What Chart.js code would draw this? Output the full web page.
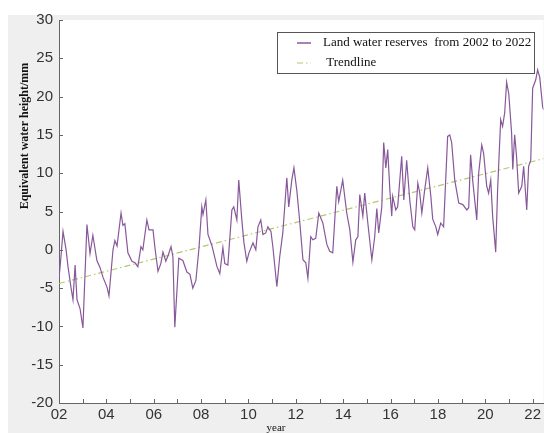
<!DOCTYPE html>
<html lang="en">
<head>
    <meta charset="UTF-8">
    <title>Land water reserves</title>
    <style>
        body {
            margin: 0;
            background-color: #ffffff;
        }
        .chart-box {
            position: relative;
            width: 544px;
            height: 433px;
        }
    </style>
</head>
<body>
    <div class="chart-box">
        <canvas id="waterChart"></canvas>
    </div>

    <script src="https://cdn.jsdelivr.net/npm/chart.js"></script>
    <script>
        // decimal years and equivalent water height (mm)
        const years = [
            2002.00, 2002.08, 2002.17, 2002.30, 2002.38, 2002.51, 2002.59, 2002.68, 2002.76, 2002.89,
            2003.01, 2003.18, 2003.31, 2003.43, 2003.60, 2003.73, 2003.86, 2004.03, 2004.11, 2004.28,
            2004.36, 2004.45, 2004.62, 2004.70, 2004.78, 2004.91, 2005.08, 2005.21, 2005.33, 2005.46,
            2005.54, 2005.71, 2005.80, 2005.97, 2006.05, 2006.18, 2006.30, 2006.39, 2006.51, 2006.60,
            2006.73, 2006.81, 2006.89, 2007.06, 2007.23, 2007.40, 2007.53, 2007.65, 2007.78, 2007.91,
            2008.03, 2008.08, 2008.20, 2008.29, 2008.46, 2008.67, 2008.79, 2008.92, 2009.00, 2009.13,
            2009.30, 2009.38, 2009.51, 2009.59, 2009.72, 2009.81, 2009.93, 2010.02, 2010.19, 2010.31,
            2010.40, 2010.52, 2010.61, 2010.73, 2010.82, 2010.95, 2011.03, 2011.20, 2011.32, 2011.45,
            2011.62, 2011.70, 2011.83, 2011.92, 2012.04, 2012.17, 2012.30, 2012.42, 2012.51, 2012.63,
            2012.72, 2012.84, 2012.97, 2013.14, 2013.31, 2013.43, 2013.56, 2013.73, 2013.81, 2013.98,
            2014.15, 2014.28, 2014.41, 2014.53, 2014.62, 2014.70, 2014.83, 2014.91, 2015.04, 2015.21,
            2015.33, 2015.42, 2015.50, 2015.63, 2015.71, 2015.80, 2015.88, 2015.97, 2016.05, 2016.09,
            2016.22, 2016.30, 2016.47, 2016.56, 2016.68, 2016.81, 2016.94, 2017.02, 2017.15, 2017.23,
            2017.32, 2017.44, 2017.57, 2017.70, 2017.78, 2017.91, 2017.99, 2018.12, 2018.24, 2018.41,
            2018.50, 2018.58, 2018.71, 2018.88, 2019.05, 2019.22, 2019.30, 2019.38, 2019.47, 2019.64,
            2019.72, 2019.85, 2019.93, 2020.06, 2020.14, 2020.23, 2020.31, 2020.44, 2020.52, 2020.65,
            2020.73, 2020.82, 2020.90, 2020.99, 2021.11, 2021.16, 2021.24, 2021.32, 2021.41, 2021.54,
            2021.62, 2021.75, 2021.83, 2021.92, 2022.00, 2022.13, 2022.21, 2022.30, 2022.42, 2022.46
        ];
        const waterValues = [
            -3.8, -1.0, 2.4, 0.0, -2.2, -5.0, -6.5, -2.0, -6.5, -7.7,
            -10.2, 3.3, -0.5, 1.9, -1.4, -2.3, -3.6, -4.9, -6.0, 0.0,
            1.2, 0.5, 4.8, 3.2, 3.4, -0.4, -1.5, -1.7, -2.2, 0.4,
            0.0, 3.9, 2.6, 2.6, 0.3, -2.8, -1.8, -0.3, -1.5, -0.8,
            0.4, -0.9, -10.1, -1.1, -1.4, -2.9, -3.2, -5.0, -4.0, 0.2,
            5.6, 4.6, 6.5, 2.0, 0.5, -2.2, -3.1, 0.3, -1.8, -2.0,
            5.2, 5.6, 3.9, 9.1, 3.9, 0.9, -1.5, -0.4, 0.9, 0.0,
            3.0, 3.9, 2.0, 2.2, 3.0, 2.4, 0.4, -4.8, -0.9, 2.2,
            9.4, 5.6, 9.1, 10.7, 7.8, 3.5, -1.3, -1.7, -3.7, 1.7,
            1.3, 1.5, 4.8, 3.5, 0.7, -0.2, -0.4, 8.3, 6.3, 9.1,
            4.8, 2.6, -1.6, 1.3, 1.7, 7.2, 4.4, 7.4, 3.5, -1.3,
            1.7, 5.4, 2.2, 5.6, 14.0, 10.7, 13.1, 7.8, 4.4, 7.0,
            5.2, 5.6, 12.2, 6.5, 11.7, 6.5, 3.0, 2.6, 8.7, 7.5,
            4.8, 7.8, 10.7, 7.0, 4.0, 3.0, 2.0, 3.5, 3.0, 14.8,
            15.0, 14.0, 9.1, 6.1, 5.9, 5.2, 5.5, 12.4, 9.0, 3.9,
            10.0, 13.7, 12.6, 8.3, 7.4, 9.1, 4.4, -0.3, 7.8, 17.0,
            16.1, 17.9, 21.9, 20.4, 15.3, 10.5, 15.0, 12.2, 7.4, 8.3,
            10.9, 5.2, 10.9, 11.7, 21.1, 22.2, 23.5, 22.5, 18.7, 18.3
        ];
        const trendYears = [2002.00, 2022.46];
        const trendValues = [-4.4, 11.9];

        const xTicks = [2002, 2003, 2004, 2005, 2006, 2007, 2008, 2009, 2010, 2011, 2012,
                        2013, 2014, 2015, 2016, 2017, 2018, 2019, 2020, 2021, 2022];
        const yTicks = [-20, -15, -10, -5, 0, 5, 10, 15, 20, 25, 30];
        const legendLabels = ['Land water reserves  from 2002 to 2022', ' Trendline'];
        const yTitle = 'Equivalent water height/mm';
        const xTitle = 'year';

        const colors = {
            water: '#87589a',
            trend: '#b4c86a',
            axis: '#666666',
            text: '#333333',
            paper: '#efefef'
        };
        const trendDash = [6, 3, 1.5, 3];

        const paperPlugin = {
            id: 'paper',
            beforeDraw(chart) {
                const { ctx, chartArea: a } = chart;
                ctx.save();
                ctx.fillStyle = colors.paper;
                ctx.fillRect(8, 15, chart.width - 8, chart.height - 15);
                ctx.fillStyle = '#ffffff';
                ctx.fillRect(a.left, a.top, a.right - a.left, a.bottom - a.top);
                ctx.restore();
            },
            afterDraw(chart) {
                const { ctx, chartArea: a, scales } = chart;
                ctx.save();
                // inward tick marks
                ctx.strokeStyle = colors.axis;
                ctx.lineWidth = 1;
                ctx.beginPath();
                scales.x.ticks.forEach(t => {
                    const px = Math.round(scales.x.getPixelForValue(t.value)) + 0.5;
                    ctx.moveTo(px, a.bottom);
                    ctx.lineTo(px, a.bottom - 4);
                });
                scales.y.ticks.forEach(t => {
                    const py = Math.round(scales.y.getPixelForValue(t.value)) + 0.5;
                    ctx.moveTo(a.left, py);
                    ctx.lineTo(a.left + 4, py);
                });
                ctx.stroke();

                // axis titles
                ctx.fillStyle = '#111111';
                ctx.font = 'bold 12px "Liberation Serif"';
                ctx.textAlign = 'center';
                ctx.textBaseline = 'middle';
                ctx.save();
                ctx.translate(25, 136);
                ctx.rotate(-Math.PI / 2);
                ctx.fillText(yTitle, 0, 0);
                ctx.restore();
                ctx.font = '11px "Liberation Serif"';
                ctx.fillText(xTitle, 276, 428);

                // legend box
                const box = { left: 277, top: 32, right: 534, bottom: 73 };
                ctx.fillStyle = '#ffffff';
                ctx.fillRect(box.left, box.top, box.right - box.left, box.bottom - box.top);
                ctx.strokeStyle = '#555555';
                ctx.strokeRect(box.left + 0.5, box.top + 0.5, box.right - box.left, box.bottom - box.top);

                const rows = [
                    { y: 43, color: colors.water, dash: [], width: 1.5 },
                    { y: 63, color: colors.trend, dash: trendDash, width: 1.2 }
                ];
                rows.forEach((r, i) => {
                    ctx.strokeStyle = r.color;
                    ctx.lineWidth = r.width;
                    ctx.setLineDash(r.dash);
                    ctx.beginPath();
                    ctx.moveTo(297, r.y);
                    ctx.lineTo(311, r.y);
                    ctx.stroke();
                    ctx.setLineDash([]);
                    ctx.fillStyle = '#111111';
                    ctx.font = '13px "Liberation Serif"';
                    ctx.textAlign = 'left';
                    ctx.fillText(legendLabels[i], 323, r.y);
                });
                ctx.restore();
            }
        };

        const config = {
            type: 'line',
            data: {
                datasets: [
                    {
                        label: legendLabels[0],
                        data: years.map((x, i) => ({ x: x, y: waterValues[i] })),
                        borderColor: colors.water,
                        borderWidth: 1.2,
                        pointRadius: 0,
                        tension: 0,
                        fill: false
                    },
                    {
                        label: legendLabels[1],
                        data: trendYears.map((x, i) => ({ x: x, y: trendValues[i] })),
                        borderColor: colors.trend,
                        borderWidth: 1.2,
                        borderDash: trendDash,
                        pointRadius: 0,
                        fill: false
                    }
                ]
            },
            options: {
                responsive: true,
                maintainAspectRatio: false,
                animation: false,
                layout: { padding: { top: 20, right: 0, left: 0, bottom: 0 } },
                scales: {
                    x: {
                        type: 'linear',
                        min: 2002,
                        max: 2022.46,
                        afterFit: s => { s.height = 30; },
                        afterBuildTicks: s => { s.ticks = xTicks.map(v => ({ value: v })); },
                        grid: { display: false, drawTicks: false },
                        border: { display: true, color: colors.axis },
                        ticks: {
                            autoSkip: false,
                            maxRotation: 0,
                            padding: 3,
                            color: colors.text,
                            font: { family: '"Liberation Sans"', size: 15 },
                            callback: v => (v % 2 === 0) ? String(v).slice(2) : ''
                        }
                    },
                    y: {
                        min: -20,
                        max: 30,
                        afterFit: s => { s.width = 59; },
                        afterBuildTicks: s => { s.ticks = yTicks.map(v => ({ value: v })); },
                        grid: { display: false, drawTicks: false },
                        border: { display: true, color: colors.axis },
                        ticks: {
                            padding: 6,
                            color: colors.text,
                            font: { family: '"Liberation Sans"', size: 15 }
                        }
                    }
                },
                plugins: {
                    legend: { display: false },
                    tooltip: { enabled: false }
                }
            },
            plugins: [paperPlugin]
        };

        const ctx = document.getElementById('waterChart').getContext('2d');
        const waterChart = new Chart(ctx, config);
    </script>
</body>
</html>
